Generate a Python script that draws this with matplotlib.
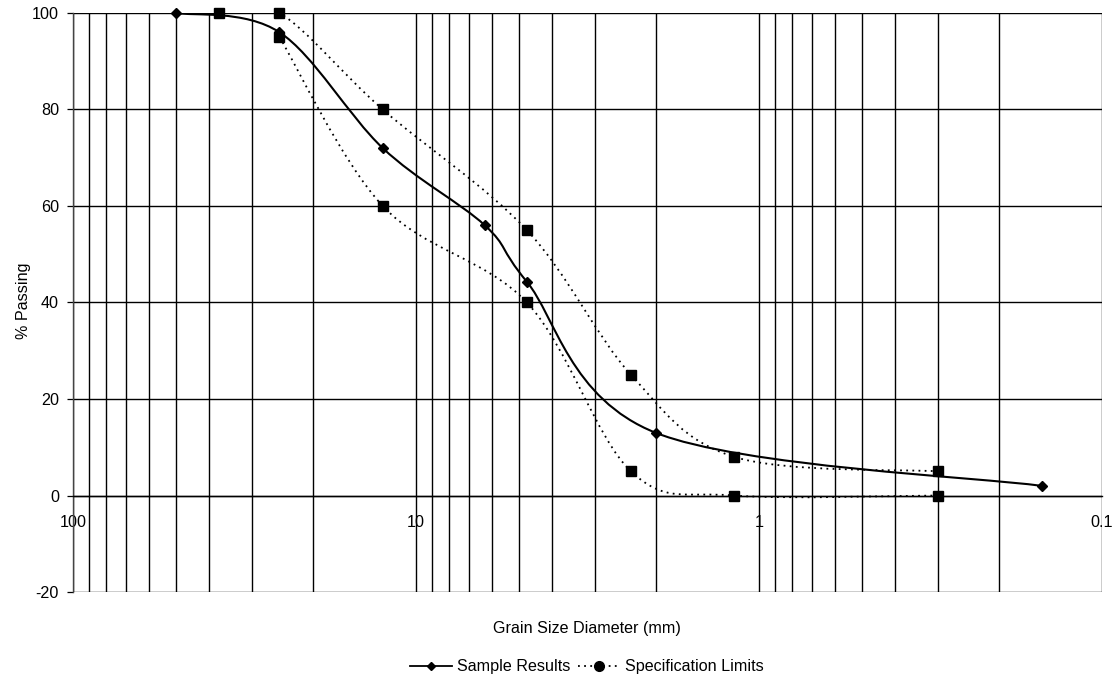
import numpy as np
import matplotlib
matplotlib.use('Agg')
import matplotlib.pyplot as plt
from matplotlib.path import Path
from matplotlib.patches import PathPatch
from matplotlib.lines import Line2D
from matplotlib.ticker import LogLocator, NullFormatter, FixedLocator, FixedFormatter

plt.rcParams['font.family'] = ['Liberation Sans', 'DejaVu Sans']
plt.rcParams['axes.unicode_minus'] = False

# Sieve analysis - sample grading
sample_mm = [50, 25, 12.5, 6.3, 4.75, 2.0, 0.15]
sample_pass = [100, 96, 72, 56, 44.3, 13, 2]

# Grading envelope
upper_mm = [37.5, 25, 12.5, 4.75, 2.36, 1.18, 0.3]
upper_pass = [100, 100, 80, 55, 25, 8, 5]
lower_mm = [25, 12.5, 4.75, 2.36, 1.18, 0.3]
lower_pass = [95, 60, 40, 5, 0, 0]

x_ticks = [100, 10, 1, 0.1]
x_tick_labels = ['100', '10', '1', '0.1']
y_ticks = [-20, 0, 20, 40, 60, 80, 100]

FS = 11.6


def smooth_path(xs, ys):
    """Spreadsheet-style smoothed line: cubic Bezier segments (Catmull-Rom
    tangents) built in log10(x) space so they stay smooth on the log axis."""
    lx = np.log10(np.asarray(xs, dtype=float))
    ly = np.asarray(ys, dtype=float)
    pts = np.column_stack([lx, ly])
    n = len(pts)
    verts = [pts[0]]
    codes = [Path.MOVETO]
    for i in range(n - 1):
        p0 = pts[max(i - 1, 0)]
        p1 = pts[i]
        p2 = pts[i + 1]
        p3 = pts[min(i + 2, n - 1)]
        c1 = p1 + (p2 - p0) / 6.0
        c2 = p2 - (p3 - p1) / 6.0
        verts += [c1, c2, p2]
        codes += [Path.CURVE4] * 3
    verts = np.array(verts)
    verts[:, 0] = 10 ** verts[:, 0]
    return Path(verts, codes)


fig = plt.figure(figsize=(11.14, 6.79), dpi=100)
ax = fig.add_axes([0.0655, 0.1281, 0.9237, 0.8528])

ax.set_xscale('log')
ax.set_xlim(100, 0.1)
ax.set_ylim(-20, 100)

# grid: every log division plus the 20% rows
ax.xaxis.set_major_locator(FixedLocator(x_ticks))
ax.xaxis.set_major_formatter(FixedFormatter(x_tick_labels))
ax.xaxis.set_minor_locator(LogLocator(base=10, subs=np.arange(2, 10)))
ax.xaxis.set_minor_formatter(NullFormatter())
ax.set_yticks(y_ticks)
ax.grid(True, which='both', axis='x', color='black', linewidth=1.0)
ax.grid(True, which='major', axis='y', color='black', linewidth=1.0)
ax.set_axisbelow(True)

for side in ['top', 'right']:
    ax.spines[side].set_visible(False)
ax.spines['bottom'].set_position(('data', 0))
ax.spines['bottom'].set_linewidth(1.0)
ax.spines['left'].set_linewidth(1.0)
ax.spines['left'].set_color('#444444')

ax.tick_params(axis='x', which='both', length=0, pad=14, labelsize=FS)
ax.tick_params(axis='y', which='major', length=4, width=0.9, direction='out',
               pad=6, labelsize=FS)

# specification envelope (dotted, square markers)
spec_style = dict(facecolor='none', edgecolor='black', linewidth=1.3,
                  linestyle=(0, (1, 2.4)), zorder=3)
ax.add_patch(PathPatch(smooth_path(upper_mm, upper_pass), **spec_style))
ax.add_patch(PathPatch(smooth_path(lower_mm, lower_pass), **spec_style))
ax.plot(upper_mm, upper_pass, linestyle='none', marker='s', markersize=6.5,
        color='black', zorder=4, clip_on=False)
ax.plot(lower_mm, lower_pass, linestyle='none', marker='s', markersize=6.5,
        color='black', zorder=4, clip_on=False)

# sample grading curve (solid, diamond markers)
ax.add_patch(PathPatch(smooth_path(sample_mm, sample_pass), facecolor='none',
                       edgecolor='black', linewidth=1.5, zorder=5))
ax.plot(sample_mm, sample_pass, linestyle='none', marker='D', markersize=5,
        color='black', zorder=6, clip_on=False)

fig.text(0.527, 0.075, 'Grain Size Diameter (mm)', ha='center', va='center',
         fontsize=FS)
fig.text(0.021, 0.557, '% Passing', ha='center', va='center', rotation=90,
         fontsize=FS)

handles = [
    Line2D([], [], color='black', linewidth=1.3, marker='D', markersize=4.5),
    Line2D([], [], color='black', linewidth=1.3, linestyle=(0, (1, 2.4)),
           marker='o', markersize=7),
]
fig.legend(handles, ['Sample Results', 'Specification Limits'], loc='center',
           bbox_to_anchor=(0.527, 0.018), ncol=2, frameon=False,
           fontsize=FS, handlelength=2.6, handletextpad=0.3, columnspacing=0.5)

fig.savefig('out.png', dpi=100)
